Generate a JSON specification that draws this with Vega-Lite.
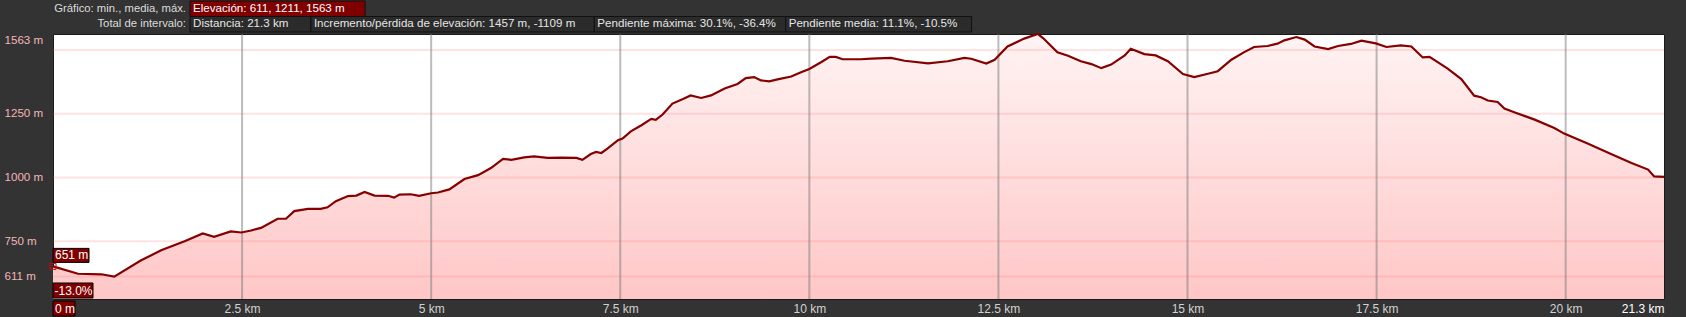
{
  "$schema": "https://vega.github.io/schema/vega-lite/v6.json",
  "background": "#333333",
  "padding": {"left": 3, "top": 0, "right": 23, "bottom": 2},
  "autosize": {"type": "pad"},
  "spacing": 2,
  "bounds": "flush",
  "config": {
    "font": "Liberation Sans",
    "view": {"stroke": null},
    "axis": {"labelFont": "Liberation Sans"}
  },
  "datasets": {
    "elev": [
      {"km": 0, "elev": 651}, {"km": 0.33, "elev": 622}, {"km": 0.64, "elev": 620}, {"km": 0.81, "elev": 611},
      {"km": 1.16, "elev": 674}, {"km": 1.43, "elev": 714}, {"km": 1.74, "elev": 750}, {"km": 1.98, "elev": 780},
      {"km": 2.13, "elev": 767}, {"km": 2.35, "elev": 788}, {"km": 2.49, "elev": 784}, {"km": 2.62, "elev": 792},
      {"km": 2.75, "elev": 802}, {"km": 2.97, "elev": 838}, {"km": 3.08, "elev": 838}, {"km": 3.19, "elev": 868},
      {"km": 3.37, "elev": 877}, {"km": 3.54, "elev": 877}, {"km": 3.63, "elev": 883}, {"km": 3.74, "elev": 907},
      {"km": 3.9, "elev": 927}, {"km": 4.01, "elev": 929}, {"km": 4.12, "elev": 943}, {"km": 4.25, "elev": 929},
      {"km": 4.43, "elev": 928}, {"km": 4.51, "elev": 921}, {"km": 4.58, "elev": 933}, {"km": 4.73, "elev": 934},
      {"km": 4.84, "elev": 928}, {"km": 5.0, "elev": 938}, {"km": 5.09, "elev": 941}, {"km": 5.24, "elev": 953},
      {"km": 5.44, "elev": 994}, {"km": 5.62, "elev": 1009}, {"km": 5.79, "elev": 1037}, {"km": 5.95, "elev": 1073},
      {"km": 6.06, "elev": 1069}, {"km": 6.23, "elev": 1079}, {"km": 6.36, "elev": 1083}, {"km": 6.54, "elev": 1077},
      {"km": 6.72, "elev": 1078}, {"km": 6.92, "elev": 1077}, {"km": 7.0, "elev": 1069}, {"km": 7.11, "elev": 1092},
      {"km": 7.18, "elev": 1100}, {"km": 7.25, "elev": 1096}, {"km": 7.33, "elev": 1113}, {"km": 7.47, "elev": 1146},
      {"km": 7.53, "elev": 1153}, {"km": 7.64, "elev": 1181}, {"km": 7.78, "elev": 1205}, {"km": 7.91, "elev": 1230},
      {"km": 7.97, "elev": 1226}, {"km": 8.06, "elev": 1247}, {"km": 8.19, "elev": 1290}, {"km": 8.33, "elev": 1308},
      {"km": 8.43, "elev": 1322}, {"km": 8.57, "elev": 1312}, {"km": 8.7, "elev": 1322}, {"km": 8.88, "elev": 1349},
      {"km": 9.05, "elev": 1367}, {"km": 9.16, "elev": 1390}, {"km": 9.27, "elev": 1394}, {"km": 9.36, "elev": 1381},
      {"km": 9.47, "elev": 1377}, {"km": 9.58, "elev": 1385}, {"km": 9.76, "elev": 1396}, {"km": 9.89, "elev": 1413},
      {"km": 10.0, "elev": 1426}, {"km": 10.16, "elev": 1453}, {"km": 10.27, "elev": 1473}, {"km": 10.35, "elev": 1473},
      {"km": 10.44, "elev": 1464}, {"km": 10.68, "elev": 1464}, {"km": 10.82, "elev": 1466}, {"km": 11.08, "elev": 1469},
      {"km": 11.26, "elev": 1458}, {"km": 11.57, "elev": 1448}, {"km": 11.83, "elev": 1456}, {"km": 12.05, "elev": 1469},
      {"km": 12.14, "elev": 1466}, {"km": 12.34, "elev": 1447}, {"km": 12.45, "elev": 1462}, {"km": 12.62, "elev": 1514},
      {"km": 12.84, "elev": 1545}, {"km": 13.02, "elev": 1563}, {"km": 13.09, "elev": 1547}, {"km": 13.28, "elev": 1491},
      {"km": 13.42, "elev": 1478}, {"km": 13.59, "elev": 1456}, {"km": 13.73, "elev": 1445}, {"km": 13.86, "elev": 1429},
      {"km": 13.99, "elev": 1443}, {"km": 14.17, "elev": 1479}, {"km": 14.25, "elev": 1505}, {"km": 14.43, "elev": 1484},
      {"km": 14.58, "elev": 1479}, {"km": 14.74, "elev": 1456}, {"km": 14.94, "elev": 1406}, {"km": 15.09, "elev": 1394},
      {"km": 15.27, "elev": 1407}, {"km": 15.4, "elev": 1417}, {"km": 15.58, "elev": 1462}, {"km": 15.75, "elev": 1492},
      {"km": 15.88, "elev": 1512}, {"km": 16.06, "elev": 1516}, {"km": 16.19, "elev": 1525}, {"km": 16.28, "elev": 1538},
      {"km": 16.44, "elev": 1551}, {"km": 16.55, "elev": 1541}, {"km": 16.68, "elev": 1514}, {"km": 16.86, "elev": 1504},
      {"km": 16.99, "elev": 1516}, {"km": 17.16, "elev": 1524}, {"km": 17.3, "elev": 1537}, {"km": 17.49, "elev": 1526},
      {"km": 17.63, "elev": 1512}, {"km": 17.82, "elev": 1518}, {"km": 17.96, "elev": 1514}, {"km": 18.11, "elev": 1471},
      {"km": 18.2, "elev": 1473}, {"km": 18.44, "elev": 1427}, {"km": 18.62, "elev": 1386}, {"km": 18.79, "elev": 1321},
      {"km": 18.88, "elev": 1315}, {"km": 18.97, "elev": 1302}, {"km": 19.1, "elev": 1296}, {"km": 19.19, "elev": 1270},
      {"km": 19.32, "elev": 1256}, {"km": 19.59, "elev": 1227}, {"km": 19.85, "elev": 1194}, {"km": 19.98, "elev": 1172},
      {"km": 20.29, "elev": 1133}, {"km": 20.6, "elev": 1092}, {"km": 20.87, "elev": 1057}, {"km": 21.09, "elev": 1031},
      {"km": 21.17, "elev": 1004}, {"km": 21.3, "elev": 1002}
    ],
    "gridY": [{"v": 1500}, {"v": 1250}, {"v": 1000}, {"v": 750}, {"v": 611}],
    "gridX": [{"v": 2.5}, {"v": 5}, {"v": 7.5}, {"v": 10}, {"v": 12.5}, {"v": 15}, {"v": 17.5}, {"v": 20}],
    "annot": [
      {"km": 0, "elev": 651, "label": "651 m", "kind": "elev"},
      {"km": 0, "label": "-13.0%", "kind": "slope"},
      {"km": 0, "label": "0 m", "kind": "dist"}
    ],
    "header": [
      {"row": 1, "seq": 1, "text": "Elevación: 611, 1211, 1563 m", "kind": "elev"},
      {"row": 2, "seq": 1, "text": "Distancia: 21.3 km", "kind": "total"},
      {"row": 2, "seq": 2, "text": "Incremento/pérdida de elevación: 1457 m, -1109 m", "kind": "total"},
      {"row": 2, "seq": 3, "text": "Pendiente máxima: 30.1%, -36.4%", "kind": "total"},
      {"row": 2, "seq": 4, "text": "Pendiente media: 11.1%, -10.5%", "kind": "total"}
    ],
    "headerLabels": [
      {"row": 1, "text": "Gráfico: min., media, máx."},
      {"row": 2, "text": "Total de intervalo:"}
    ]
  },
  "vconcat": [
    {
      "width": 1611,
      "height": 31,
      "view": {"stroke": null, "fill": null},
      "layer": [
        {
          "data": {"name": "header"},
          "transform": [
            {"calculate": "length(datum.text) + 4.3", "as": "w"},
            {"stack": "w", "groupby": ["row"], "sort": [{"field": "seq", "order": "ascending"}], "as": ["w0", "w1"]}
          ],
          "mark": {"type": "rect", "stroke": "#111111", "strokeWidth": 1},
          "encoding": {
            "x": {"field": "w0", "type": "quantitative", "scale": {"domain": [-25.28, 271.96], "nice": false, "zero": false}, "axis": null},
            "x2": {"field": "w1"},
            "y": {"field": "row", "type": "ordinal", "scale": {"paddingInner": 0, "paddingOuter": 0}, "axis": null},
            "fill": {"field": "kind", "type": "nominal", "scale": {"domain": ["elev", "total"], "range": ["#800000", "#2b2b2b"]}, "legend": null}
          }
        },
        {
          "data": {"name": "header"},
          "transform": [
            {"calculate": "length(datum.text) + 4.3", "as": "w"},
            {"stack": "w", "groupby": ["row"], "sort": [{"field": "seq", "order": "ascending"}], "as": ["w0", "w1"]}
          ],
          "mark": {"type": "text", "align": "left", "baseline": "middle", "dx": 3, "fontSize": 11.6},
          "encoding": {
            "x": {"field": "w0", "type": "quantitative"},
            "y": {"field": "row", "type": "ordinal"},
            "text": {"field": "text"},
            "color": {"field": "kind", "type": "nominal", "scale": {"domain": ["elev", "total"], "range": ["#ffffff", "#e6e6e6"]}, "legend": null}
          }
        },
        {
          "data": {"name": "headerLabels"},
          "mark": {"type": "text", "align": "right", "baseline": "middle", "dx": -4, "fontSize": 11.3, "color": "#dcdcdc"},
          "encoding": {
            "x": {"datum": 0, "type": "quantitative"},
            "y": {"field": "row", "type": "ordinal"},
            "text": {"field": "text"}
          }
        }
      ]
    },
    {
      "width": 1611,
      "height": 265,
      "view": {"fill": "#ffffff", "stroke": "#1a1a1a", "strokeWidth": 1},
      "layer": [
        {
          "data": {"name": "elev"},
          "mark": {
            "type": "area",
            "clip": true,
            "color": {
              "gradient": "linear", "x1": 0, "y1": 0, "x2": 0, "y2": 1,
              "stops": [{"offset": 0, "color": "#fff3f3"}, {"offset": 1, "color": "#ffb0b0"}]
            }
          },
          "encoding": {
            "x": {
              "field": "km", "type": "quantitative", "title": null,
              "scale": {"domain": [0, 21.3], "nice": false, "zero": false},
              "axis": {
                "values": [2.5, 5, 7.5, 10, 12.5, 15, 17.5, 20, 21.3],
                "labelExpr": "format(datum.value, '~g') + ' km'",
                "grid": false, "ticks": false, "tickSize": 0, "domain": false,
                "labelPadding": 4, "labelFontSize": 12,
                "labelColor": {"condition": {"test": "datum.value > 21", "value": "#ffffff"}, "value": "#d2d2d2"},
                "labelAlign": {"condition": {"test": "datum.value > 21", "value": "right"}, "value": "center"},
                "labelFlush": false, "labelOverlap": false, "labelBound": false
              }
            },
            "y": {
              "field": "elev", "type": "quantitative", "title": null,
              "scale": {"domain": [523, 1563], "nice": false, "zero": false},
              "axis": {
                "values": [611, 750, 1000, 1250, 1563],
                "labelExpr": "datum.value + ' m'",
                "grid": false, "ticks": false, "tickSize": 0, "domain": false,
                "labelAlign": "left", "labelPadding": 49, "labelFontSize": 11.6,
                "labelColor": "#f2b6b6",
                "labelBaseline": {"condition": {"test": "datum.value > 1560", "value": "top"}, "value": "middle"},
                "labelFlush": false, "labelOverlap": false, "labelBound": false
              }
            },
            "y2": {"value": "height"}
          }
        },
        {
          "data": {"name": "gridY"},
          "mark": {"type": "rule", "stroke": "#ff7070", "strokeOpacity": 0.2, "strokeWidth": 2},
          "encoding": {"y": {"field": "v", "type": "quantitative", "title": null}}
        },
        {
          "data": {"name": "gridX"},
          "mark": {"type": "rule", "stroke": "#7a7a7a", "strokeOpacity": 0.5, "strokeWidth": 2},
          "encoding": {"x": {"field": "v", "type": "quantitative", "title": null}}
        },
        {
          "data": {"name": "elev"},
          "mark": {"type": "line", "stroke": "#860000", "strokeWidth": 2.2},
          "encoding": {
            "x": {"field": "km", "type": "quantitative", "title": null},
            "y": {"field": "elev", "type": "quantitative", "title": null}
          }
        },
        {
          "data": {"name": "annot"},
          "transform": [{"filter": "datum.kind == 'elev'"}],
          "mark": {"type": "point", "shape": "square", "size": 36, "filled": false, "stroke": "#e00000", "strokeWidth": 1, "opacity": 1},
          "encoding": {
            "x": {"field": "km", "type": "quantitative", "title": null},
            "y": {"field": "elev", "type": "quantitative", "title": null}
          }
        },
        {
          "data": {"name": "annot"},
          "transform": [{"filter": "datum.kind == 'elev'"}],
          "mark": {"type": "point", "shape": "M0,-1.8L3.6,-1.8L3.6,-0.4L0,-0.4Z", "size": 400, "filled": true, "fill": "#800000", "stroke": "#000000", "strokeWidth": 1, "opacity": 1},
          "encoding": {
            "x": {"field": "km", "type": "quantitative", "title": null},
            "y": {"field": "elev", "type": "quantitative", "title": null}
          }
        },
        {
          "data": {"name": "annot"},
          "transform": [{"filter": "datum.kind == 'elev'"}],
          "mark": {"type": "text", "align": "left", "baseline": "middle", "dx": 2, "dy": -11, "fontSize": 12, "color": "#ffffff"},
          "encoding": {
            "x": {"field": "km", "type": "quantitative", "title": null},
            "y": {"field": "elev", "type": "quantitative", "title": null},
            "text": {"field": "label"}
          }
        },
        {
          "data": {"name": "annot"},
          "transform": [{"filter": "datum.kind == 'slope'"}],
          "mark": {"type": "point", "shape": "M0,-1.6L4,-1.6L4,-0.1L0,-0.1Z", "size": 400, "filled": true, "fill": "#800000", "stroke": "#000000", "strokeWidth": 1, "opacity": 1},
          "encoding": {
            "x": {"field": "km", "type": "quantitative", "title": null},
            "y": {"value": "height"}
          }
        },
        {
          "data": {"name": "annot"},
          "transform": [{"filter": "datum.kind == 'slope'"}],
          "mark": {"type": "text", "align": "left", "baseline": "middle", "dx": 1.5, "dy": -8.5, "fontSize": 12, "color": "#ffffff"},
          "encoding": {
            "x": {"field": "km", "type": "quantitative", "title": null},
            "y": {"value": "height"},
            "text": {"field": "label"}
          }
        },
        {
          "data": {"name": "annot"},
          "transform": [{"filter": "datum.kind == 'dist'"}],
          "mark": {"type": "point", "shape": "M0,0.2L2.2,0.2L2.2,1.7L0,1.7Z", "size": 400, "filled": true, "fill": "#800000", "stroke": "#000000", "strokeWidth": 1, "opacity": 1},
          "encoding": {
            "x": {"field": "km", "type": "quantitative", "title": null},
            "y": {"value": "height"}
          }
        },
        {
          "data": {"name": "annot"},
          "transform": [{"filter": "datum.kind == 'dist'"}],
          "mark": {"type": "text", "align": "left", "baseline": "middle", "dx": 2, "dy": 9.5, "fontSize": 12, "color": "#ffffff"},
          "encoding": {
            "x": {"field": "km", "type": "quantitative", "title": null},
            "y": {"value": "height"},
            "text": {"field": "label"}
          }
        }
      ]
    }
  ]
}
